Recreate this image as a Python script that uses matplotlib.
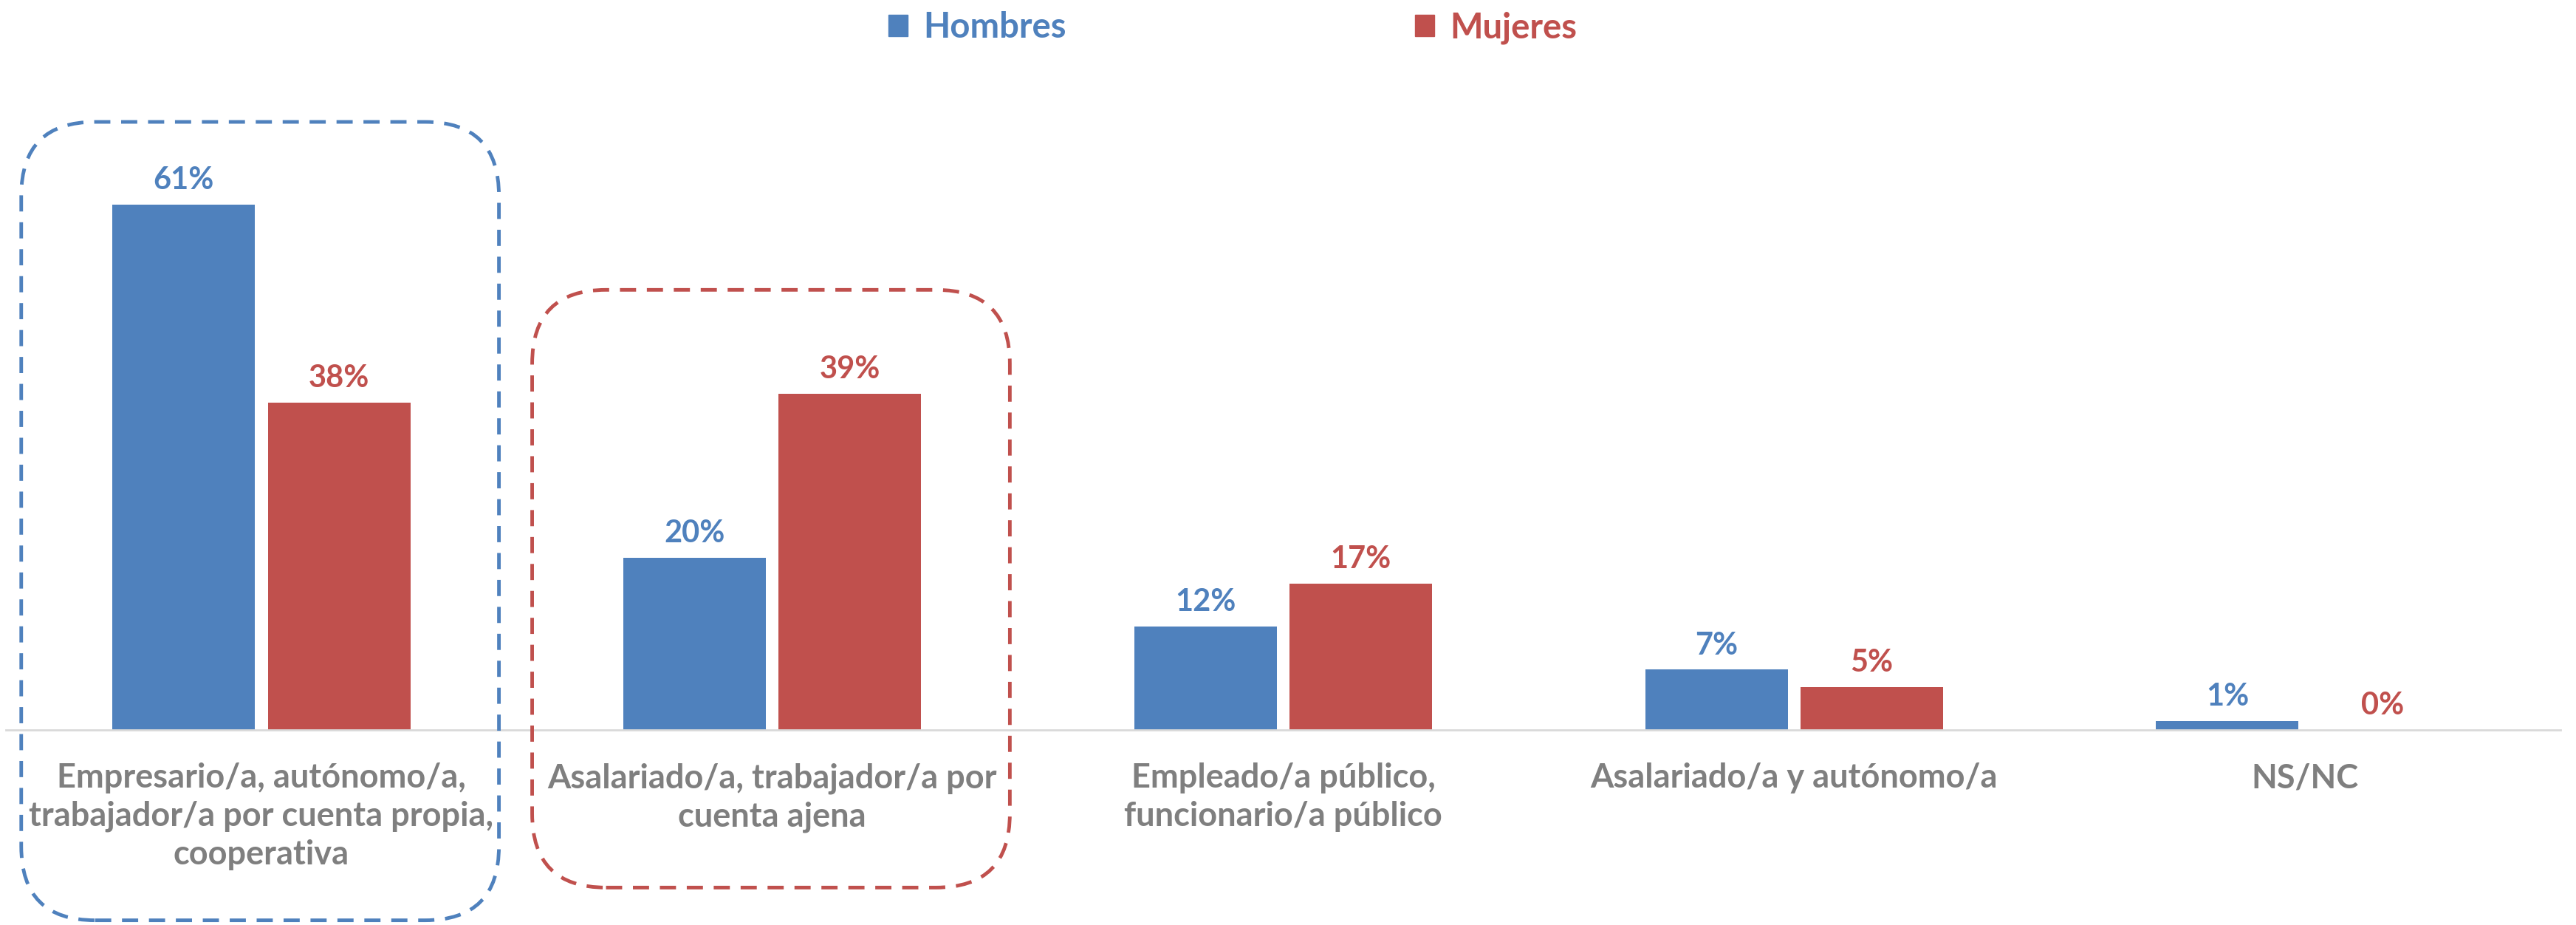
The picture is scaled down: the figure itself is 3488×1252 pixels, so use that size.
import numpy as np
import matplotlib.pyplot as plt
from matplotlib.patches import FancyBboxPatch, Patch
from matplotlib.transforms import IdentityTransform

plt.rcParams['font.family'] = ['Lato', 'DejaVu Sans']

categorias = ["Empresario/a, autónomo/a,\ntrabajador/a por cuenta propia,\ncooperativa",
              "Asalariado/a, trabajador/a por\ncuenta ajena",
              "Empleado/a público,\nfuncionario/a público",
              "Asalariado/a y autónomo/a",
              "NS/NC"]
hombres = [61, 20, 12, 7, 1]
mujeres = [38, 39, 17, 5, 0]

azul = "#4F81BD"
rojo = "#C0504D"
gris = "#7F7F7F"

fig = plt.figure(figsize=(34.88, 12.52), dpi=100)
ax = fig.add_axes([8/3488, 264/1252, 3459/3488, 816/1252])

x = np.arange(len(categorias))
w = 0.279
off = 0.152
b1 = ax.bar(x - off, hombres, w, color=azul)
b2 = ax.bar(x + off, mujeres, w, color=rojo)

for bars, vals, col in [(b1, hombres, azul), (b2, mujeres, rojo)]:
    for r, v in zip(bars, vals):
        ax.annotate(f"{v}%", (r.get_x() + r.get_width()/2, v), xytext=(0, 10),
                    textcoords="offset points", ha="center", va="bottom",
                    fontsize=30, fontweight="bold", color=col)

ax.set_xlim(-0.5, len(categorias) - 0.5)
ax.set_ylim(0, 70)
ax.set_xticks(x)
ax.set_xticklabels(categorias, fontsize=32.5, fontweight="bold", color=gris, linespacing=1.28)
ax.tick_params(axis="x", length=0, pad=32)
ax.set_yticks([])
for s in ["top", "left", "right"]:
    ax.spines[s].set_visible(False)
ax.spines["bottom"].set_color("#D9D9D9")
ax.spines["bottom"].set_linewidth(2)

# cajas discontinuas
def caja(i, y0, y1, col):
    (px0, py0) = ax.transData.transform((i - 0.47, y0))
    (px1, py1) = ax.transData.transform((i + 0.465, y1))
    p = FancyBboxPatch((px0, py0), px1 - px0, py1 - py0,
                       boxstyle="round,pad=0,rounding_size=100",
                       transform=IdentityTransform(), fill=False, edgecolor=col,
                       linewidth=3.5, linestyle=(0, (4.5, 3)), clip_on=False)
    fig.add_artist(p)

caja(0, -22.1, 70.6, azul)
caja(1, -18.3, 51.1, rojo)

handles = [Patch(color=azul), Patch(color=rojo)]
leg = fig.legend(handles, ["Hombres", "Mujeres"], loc="center", bbox_to_anchor=(0.4785, 0.97),
                 ncol=2, frameon=False, handlelength=0.55, handleheight=0.55,
                 handletextpad=0.45, columnspacing=10.0,
                 prop={"weight": "bold", "size": 34})
for t, c in zip(leg.get_texts(), [azul, rojo]):
    t.set_color(c)

fig.savefig("out.png", dpi=100)
